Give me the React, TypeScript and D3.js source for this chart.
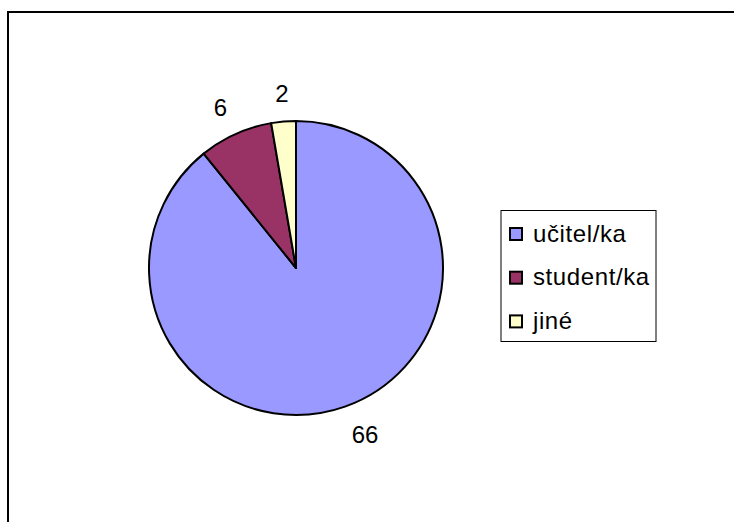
import React from "react";
import * as d3 from "d3";

const categories = ["učitel/ka", "student/ka", "jiné"];
const values = [66, 6, 2];
const colors = ["#9999FF", "#993366", "#FFFFCC"];

const W = 734;
const H = 522;
const cx = 296;
const cy = 268;
const R = 147;
const FONT = "Arial, 'Liberation Sans', sans-serif";

export default function App() {
  const pie = d3.pie<number>().sort(null).value((d) => d).startAngle(0).endAngle(2 * Math.PI);
  const arcs = pie(values);
  const arcGen = d3.arc<d3.PieArcDatum<number>>().innerRadius(0).outerRadius(R);
  const labelR = R + 20;

  return (
    <div style={{ position: "fixed", left: 0, top: 0, width: W, height: H, background: "#fff" }}>
      <svg width={W} height={H} style={{ display: "block" }}>
        <rect x={8} y={12} width={W + 20} height={H + 20} fill="#fff" stroke="#000" strokeWidth={2} />
        <g transform={`translate(${cx},${cy})`}>
          {arcs.map((a, i) => (
            <path key={i} d={arcGen(a) || ""} fill={colors[i]} stroke="#000" strokeWidth={2} strokeLinejoin="round" />
          ))}
          {arcs.map((a, i) => {
            const mid = (a.startAngle + a.endAngle) / 2;
            const sx = Math.sin(mid);
            const cyv = -Math.cos(mid);
            const x = labelR * sx;
            const y = labelR * cyv;
            const anchor = sx > 0.2 ? "start" : sx < -0.2 ? "end" : "middle";
            const baseline = cyv > 0 ? "hanging" : "auto";
            return (
              <text key={i} x={x} y={y} textAnchor={anchor} dominantBaseline={baseline} fontFamily={FONT} fontSize={24} fill="#000">
                {values[i]}
              </text>
            );
          })}
        </g>
        <g>
          <rect x={501} y={210.5} width={155} height={131} fill="#fff" stroke="#000" strokeWidth={1} />
          {categories.map((c, i) => (
            <g key={c} transform={`translate(509, ${234 + i * 43.7})`}>
              <rect x={1} y={-6} width={12} height={12} fill={colors[i]} stroke="#000" strokeWidth={2} />
              <text x={24} y={7.5} fontFamily={FONT} fontSize={24} letterSpacing={0.6} fill="#000">
                {c}
              </text>
            </g>
          ))}
        </g>
      </svg>
    </div>
  );
}
